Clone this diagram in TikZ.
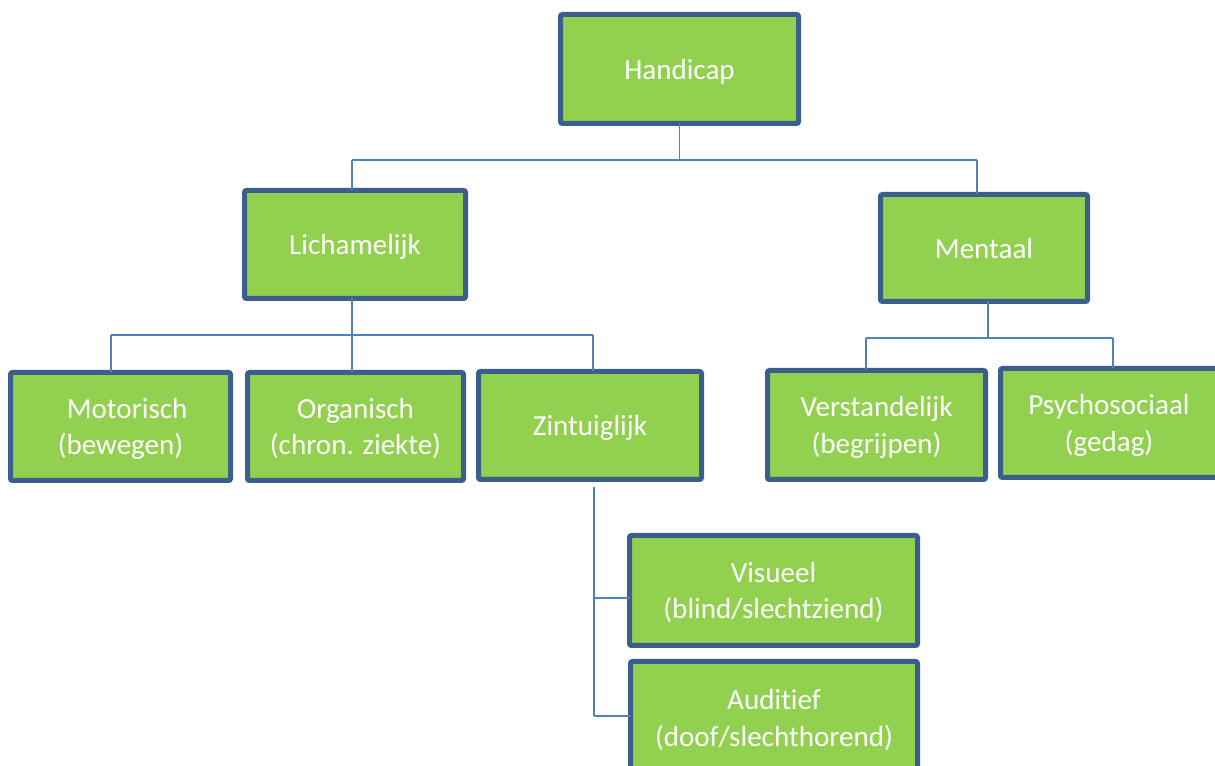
\documentclass[tikz,border=0pt]{standalone}
\usepackage{fontspec}
\setmainfont{Carlito}[Ligatures={NoCommon}]
\definecolor{boxfill}{HTML}{92D050}
\definecolor{boxline}{HTML}{3B5E8C}
\definecolor{connline}{HTML}{4F81BD}
\begin{document}
\begin{tikzpicture}[x=0.75pt,y=-0.75pt,
  cbox/.style 2 args={draw=boxline, line width=3.75pt, fill=boxfill, rounded corners=1.5pt,
     text=white, align=center, inner sep=0pt, outer sep=0pt, text depth=0pt,
     minimum width=#1*0.75pt, minimum height=#2*0.75pt,
     font=\fontsize{21.8}{27.5}\selectfont},
  conn/.style={draw=connline, line width=1.3pt}]
\useasboundingbox (0,0) rectangle (1215,766);
\clip (0,0) rectangle (1215,766);
% nodes
\node[cbox={238}{109}] (H) at (679.5,69) {Handicap};
\node[cbox={221}{108}] (L) at (355,244.5) {Lichamelijk};
\node[cbox={207}{107}] (M) at (984,248) {Mentaal};
\node[cbox={220}{108}] (Mo) at (120.5,426.5) {\hspace*{10pt}Motorisch\\(bewegen)};
\node[cbox={216}{108}] (O) at (355.5,426.5) {Organisch\\(chron. ziekte)};
\node[cbox={223}{108}] (Z) at (590,425.5) {Zintuiglijk};
\node[cbox={218}{109}] (V) at (876.5,425) {Verstandelijk\\(begrijpen)};
\node[cbox={217}{109}] (P) at (1109,423) {Psychosociaal\\(gedag)};
\node[cbox={288}{110}] (Vi) at (773.5,590.5) {Visueel\\(blind/slechtziend)};
\node[cbox={287}{113}] (A) at (774,718) {Auditief\\(doof/slechthorend)};
% connectors level 1
\coordinate (b1l) at (352,160);
\coordinate (b1r) at (977,160);
\draw[conn] (H.south) -- (H.south |- b1l);
\draw[conn] (b1l) -- (b1r);
\draw[conn] (b1l) -- (b1l |- L.north);
\draw[conn] (b1r) -- (b1r |- M.north);
% Lichamelijk children
\coordinate (b2m) at (352,335);
\coordinate (b2l) at (111,335);
\coordinate (b2r) at (593,335);
\draw[conn] (b2m |- L.south) -- (b2m);
\draw[conn] (b2l) -- (b2r);
\draw[conn] (b2l) -- (b2l |- Mo.north);
\draw[conn] (b2m) -- (b2m |- O.north);
\draw[conn] (b2r) -- (b2r |- Z.north);
% Mentaal children
\coordinate (b3m) at (988,338);
\coordinate (b3l) at (866,338);
\coordinate (b3r) at (1113,338);
\draw[conn] (b3m |- M.south) -- (b3m);
\draw[conn] (b3l) -- (b3r);
\draw[conn] (b3l) -- (b3l |- V.north);
\draw[conn] (b3r) -- (b3r |- P.north);
% Zintuiglijk children
\coordinate (zt) at (594,487);
\coordinate (zv) at (594,598);
\coordinate (za) at (594,716);
\draw[conn] (zt) -- (za);
\draw[conn] (zv) -- (zv -| Vi.west);
\draw[conn] (za) -- (za -| A.west);
\end{tikzpicture}
\end{document}
